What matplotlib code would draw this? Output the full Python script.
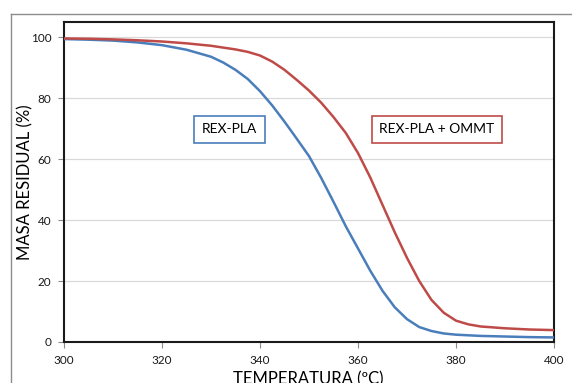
import matplotlib
matplotlib.use("Agg")
import matplotlib.pyplot as plt
from matplotlib.lines import Line2D

# temperature (ºC) and residual mass (%)
temp_blue = [300, 305, 310, 315, 320, 325, 330, 332.5, 335, 337.5, 340, 342.5,
             345, 347.5, 350, 352.5, 355, 357.5, 360, 362.5, 365, 367.5, 370,
             372.5, 375, 377.5, 380, 385, 390, 395, 400]
rex_pla = [99.4, 99.2, 98.9, 98.3, 97.4, 95.9, 93.6, 91.7, 89.3, 86.3, 82.3, 77.6,
           72.3, 66.7, 61.0, 53.8, 46.0, 38.0, 30.7, 23.4, 16.8, 11.4, 7.5,
           4.9, 3.6, 2.8, 2.4, 2.0, 1.8, 1.6, 1.5]
temp_red = [300, 305, 310, 315, 320, 325, 330, 335, 337.5, 340, 342.5, 345,
            347.5, 350, 352.5, 355, 357.5, 360, 362.5, 365, 367.5, 370, 372.5,
            375, 377.5, 380, 382.5, 385, 390, 395, 400]
rex_pla_ommt = [99.6, 99.5, 99.3, 99.0, 98.6, 98.0, 97.2, 96.0, 95.2, 94.0, 92.0, 89.3,
                86.0, 82.5, 78.5, 73.8, 68.6, 62.0, 54.0, 45.0, 36.0, 27.6, 20.0,
                13.8, 9.6, 7.0, 5.8, 5.1, 4.5, 4.1, 3.9]
series_labels = ["REX-PLA", "REX-PLA + OMMT"]
x_ticks = [300, 320, 340, 360, 380, 400]
y_ticks = [0, 20, 40, 60, 80, 100]

blue = "#4a7ebb"
red = "#be4b48"

plt.rcParams["font.family"] = ["Lato", "DejaVu Sans"]

fig = plt.figure(figsize=(5.72, 3.83), dpi=100)
ax = fig.add_axes([64 / 572, 1 - 342 / 383, 490 / 572, 320 / 383])

# outer chart frame (partially cropped in the original)
fy = 1 - 14 / 383
fx = 11 / 572
fig.add_artist(Line2D([fx, 1], [fy, fy], color="#8c8c8c", lw=1.0, transform=fig.transFigure))
fig.add_artist(Line2D([fx, fx], [0, fy], color="#8c8c8c", lw=1.0, transform=fig.transFigure))

ax.plot(temp_blue, rex_pla, color=blue, lw=1.8, zorder=3)
ax.plot(temp_red, rex_pla_ommt, color=red, lw=1.8, zorder=3)

ax.set_xlim(300, 400)
ax.set_ylim(0, 105)
ax.set_xticks(x_ticks)
ax.set_yticks(y_ticks)
ax.yaxis.grid(True, color="#d9d9d9", lw=0.9)
ax.set_axisbelow(True)
for sp in ax.spines.values():
    sp.set_linewidth(1.5)
    sp.set_color("#1a1a1a")
ax.tick_params(axis="both", direction="out", length=4, width=0.8, color="#8c8c8c",
               labelsize=8.5, labelcolor="#1a1a1a", pad=5)

ax.text(333.8, 69.8, series_labels[0], ha="center", va="center", fontsize=10,
        bbox=dict(boxstyle="square,pad=0.55", fc="white", ec=blue, lw=1.2))
ax.text(376.1, 69.8, series_labels[1], ha="center", va="center", fontsize=10,
        bbox=dict(boxstyle="square,pad=0.55", fc="white", ec=red, lw=1.2))

fig.text(25 / 572, 1 - 182 / 383, "MASA RESIDUAL (%)", rotation=90,
         ha="center", va="center", fontsize=12)
fig.text(308 / 572, 1 - 379 / 383, "TEMPERATURA (ºC)", ha="center", va="center",
         fontsize=12)

fig.savefig("out.png", dpi=100)
plt.close(fig)
